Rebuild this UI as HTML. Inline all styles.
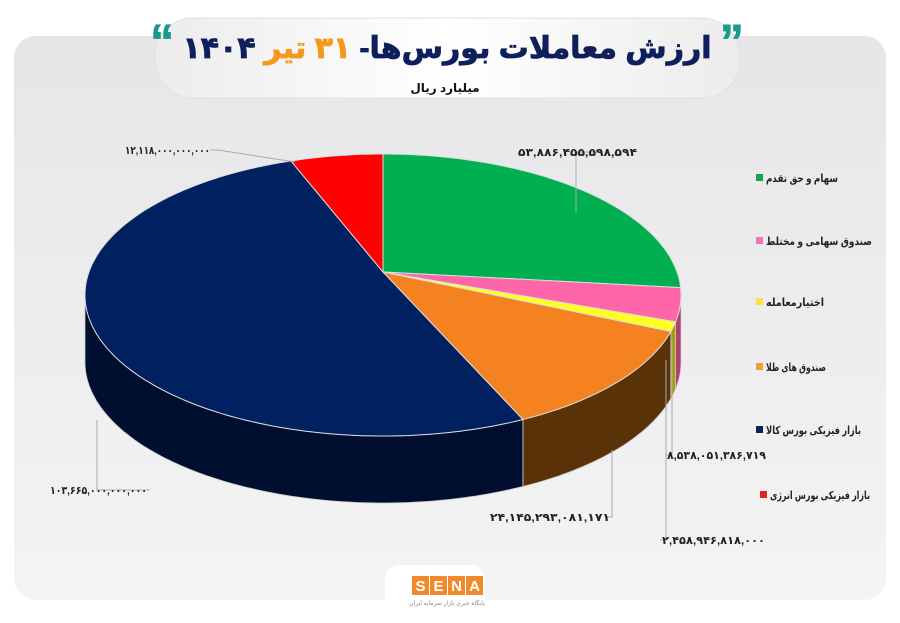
<!DOCTYPE html>
<html><head><meta charset="utf-8"><style>
html,body{margin:0;padding:0;background:#fff;}
body{width:900px;height:623px;overflow:hidden;position:relative;font-family:"Liberation Sans","DejaVu Sans",sans-serif;}
svg{position:absolute;left:0;top:0;}
</style></head><body>
<svg width="900" height="623" viewBox="0 0 900 623" xmlns="http://www.w3.org/2000/svg">
<defs>
<linearGradient id="bg" x1="0" y1="0" x2="0" y2="1"><stop offset="0" stop-color="#e6e6e8"/><stop offset="1" stop-color="#f4f4f5"/></linearGradient>
<linearGradient id="pill" x1="0" y1="0" x2="1" y2="0"><stop offset="0" stop-color="#ececec"/><stop offset="0.5" stop-color="#ffffff"/><stop offset="1" stop-color="#ececec"/></linearGradient>
</defs>
<rect x="0" y="0" width="900" height="623" fill="#fff"/>
<rect x="14" y="36" width="872" height="564" rx="22" fill="url(#bg)"/>
<rect x="155" y="18" width="585" height="80" rx="38" fill="url(#pill)" stroke="#e0e0e0"/>
<text x="447" y="58" text-anchor="middle" font-weight="bold" font-size="30" fill="#0f1f5c" direction="rtl" stroke="#0f1f5c" stroke-width="0.8"><tspan fill="#1a9a8a" stroke="#1a9a8a" font-size="48">”</tspan> ارزش معاملات بورس‌ها- <tspan fill="#f39a1e" stroke="#f39a1e">۳۱</tspan> <tspan fill="#f39a1e" stroke="#f39a1e">تیر</tspan> ۱۴۰۴ <tspan fill="#1a9a8a" stroke="#1a9a8a" font-size="48">“</tspan></text>
<text x="445" y="92" text-anchor="middle" font-weight="bold" font-size="12" fill="#111">میلیارد ریال</text>
<rect x="385" y="565" width="100" height="58" rx="14" fill="#fff"/>
<g font-weight="bold" font-size="15" fill="#fff" text-anchor="middle">
<rect x="412" y="576" width="17" height="19" fill="#f08a2a"/><text x="420.5" y="591">S</text>
<rect x="430" y="576" width="17" height="19" fill="#f08a2a"/><text x="438.5" y="591">E</text>
<rect x="448" y="576" width="17" height="19" fill="#f08a2a"/><text x="456.5" y="591">N</text>
<rect x="466" y="576" width="17" height="19" fill="#f08a2a"/><text x="474.5" y="591">A</text>
</g>
<text x="447" y="605" text-anchor="middle" font-size="6" fill="#888">پایگاه خبری بازار سرمایه ایران</text>
<g id="pie"></g>
<g font-size="11" font-weight="bold" fill="#222" text-anchor="start" lengthAdjust="spacingAndGlyphs">
<text x="766" y="182" textLength="72" lengthAdjust="spacingAndGlyphs">سهام و حق تقدم</text>
<text x="766" y="245" textLength="106" lengthAdjust="spacingAndGlyphs">صندوق سهامی و مختلط</text>
<text x="766" y="306" textLength="58" lengthAdjust="spacingAndGlyphs">اختیارمعامله</text>
<text x="766" y="371" textLength="60" lengthAdjust="spacingAndGlyphs">صندوق های طلا</text>
<text x="766" y="434" textLength="95" lengthAdjust="spacingAndGlyphs">بازار فیزیکی بورس کالا</text>
<text x="770" y="499" textLength="100" lengthAdjust="spacingAndGlyphs">بازار فیزیکی بورس انرژی</text>
</g>
<rect x="756" y="174" width="7" height="7" fill="#16a34a"/>
<rect x="756" y="237" width="7" height="7" fill="#f472b6"/>
<rect x="756" y="298" width="7" height="7" fill="#fde047"/>
<rect x="756" y="363" width="7" height="7" fill="#f0a030"/>
<rect x="756" y="426" width="7" height="7" fill="#10215e"/>
<rect x="760" y="491" width="7" height="7" fill="#dc2626"/>
<g stroke="#aaa" stroke-width="1" fill="none">
<polyline points="576,213 576,152 600,152"/>
<polyline points="295,162 218,150 210,150"/>
<polyline points="97,420 97,490 150,490"/>
<polyline points="612,450 612,517 605,517"/>
<polyline points="672,340 672,455 665,455"/>
<polyline points="666,360 666,540 660,540"/>
</g>
<g font-size="11" font-weight="bold" fill="#222">
<text x="518" y="156" textLength="119" lengthAdjust="spacingAndGlyphs">۵۳,۸۸۶,۴۵۵,۵۹۸,۵۹۴</text>
<text x="125" y="154" textLength="85" lengthAdjust="spacingAndGlyphs">۱۲,۱۱۸,۰۰۰,۰۰۰,۰۰۰</text>
<text x="50" y="494" textLength="97" lengthAdjust="spacingAndGlyphs">۱۰۳,۶۶۵,۰۰۰,۰۰۰,۰۰۰</text>
<text x="490" y="521" textLength="120" lengthAdjust="spacingAndGlyphs">۲۴,۱۴۵,۲۹۳,۰۸۱,۱۷۱</text>
<text x="667" y="459" textLength="99" lengthAdjust="spacingAndGlyphs">۸,۵۳۸,۰۵۱,۳۸۶,۷۱۹</text>
<text x="662" y="544" textLength="103" lengthAdjust="spacingAndGlyphs">۲,۴۵۸,۹۴۶,۸۱۸,۰۰۰</text>
</g>
</svg>
<script>
(function(){
var cx=383,cy=295,rx=298,ry=141,ax=383,ay=272,D=67;
function P(t,d){t=t*Math.PI/180;return [cx+rx*Math.sin(t),cy-ry*Math.cos(t)+(d||0)];}
function arc(a,b,d){var s="";for(var t=a;t<=b;t+=1){var p=P(Math.min(t,b),d);s+=" L"+p[0].toFixed(1)+","+p[1].toFixed(1);}var p=P(b,d);s+=" L"+p[0].toFixed(1)+","+p[1].toFixed(1);return s;}
function arcR(a,b,d){var s="";for(var t=b;t>=a;t-=1){var p=P(t,d);s+=" L"+p[0].toFixed(1)+","+p[1].toFixed(1);}var p=P(a,d);s+=" L"+p[0].toFixed(1)+","+p[1].toFixed(1);return s;}
var segs=[[0,87,"#00b050","#006a30"],[87,101,"#ff66aa","#b04070"],[101,105,"#ffff22","#a0a000"],[105,152,"#f58220","#5a3208"],[152,342,"#002060","#000f30"],[342,360,"#ff0000","#900"]];
var g=document.getElementById("pie"),h="";
segs.forEach(function(s){var a=Math.max(s[0],90),b=Math.min(s[1],270);if(b>a){var p=P(a);h+='<path d="M'+p[0]+','+p[1]+arc(a,b,0)+arcR(a,b,D)+' Z" fill="'+s[3]+'" stroke="#ccc" stroke-width="0.8"/>';}});
segs.forEach(function(s){h+='<path d="M'+ax+','+ay+arc(s[0],s[1],0)+' Z" fill="'+s[2]+'" stroke="#ddd" stroke-width="1"/>';});
g.innerHTML=h;
})();
</script>
</body></html>
